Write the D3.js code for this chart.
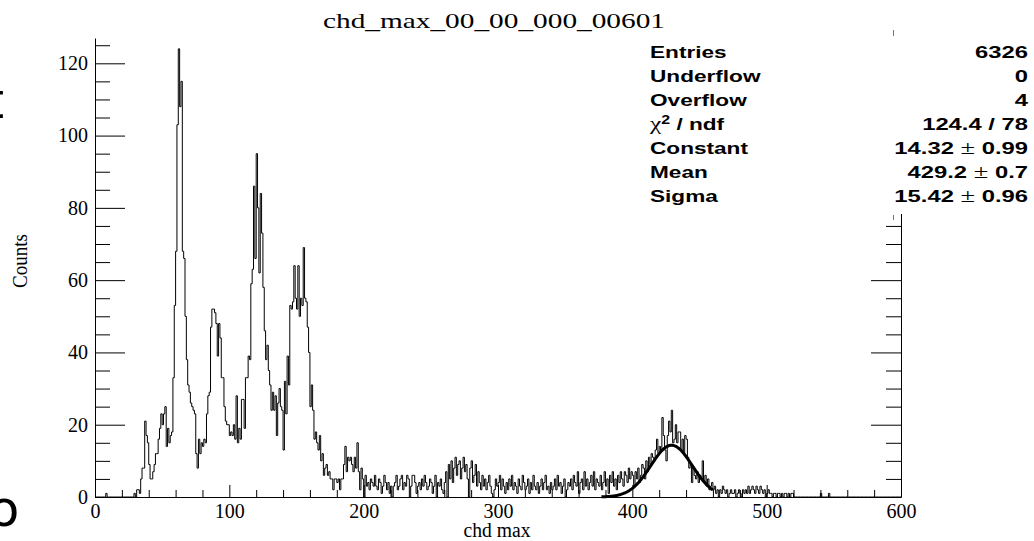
<!DOCTYPE html>
<html>
<head>
<meta charset="utf-8">
<script src="https://cdn.jsdelivr.net/npm/d3@7"></script>
<style>
  html, body { margin: 0; padding: 0; background: #fff; overflow: hidden; }
  svg { display: block; }
</style>
</head>
<body>
<svg id="chart" width="1034" height="541"></svg>
<script>
// ---- histogram chd_max: 600 bins of width 1 from 0 to 600 ----
const xMin = 0, xMax = 600, binWidth = 1;

const counts000 = [
  0,0,0,0,0,0,0,0,1,0,
  0,0,0,0,0,0,0,0,0,0,
  0,0,0,0,0,0,0,0,0,1,
  0,2,2,1,5,8,8,21,17,15,
  9,5,5,7,9,12,12,16,19,23,
  20,23,25,14,19,15,17,18,33,53,
  68,103,124,108,115,68,66,50,38,31,
  29,26,25,24,23,12,8,16,12,15,
  14,16,15,23,28,29,47,52,52,51,
  48,39,48,44,33,33,25,21,20,20
];
const counts100 = [
  17,18,17,20,16,28,15,19,16,27,
  27,19,33,33,39,38,59,63,86,66,
  95,80,62,84,73,58,46,38,42,35,
  31,24,29,24,28,17,26,30,25,24,
  13,32,23,39,31,53,52,54,64,55,
  52,64,50,55,53,69,55,54,47,40,
  25,31,24,16,18,15,13,17,10,12,
  6,8,9,6,7,5,5,2,5,5,
  4,5,2,5,5,9,14,7,11,10,
  11,9,7,11,8,15,7,2,8,5
];
const counts200 = [
  0,6,3,4,2,5,4,3,6,3,
  2,5,4,1,3,6,4,2,4,1,
  3,0,3,4,6,2,3,5,6,2,
  4,3,6,5,0,3,6,6,4,1,
  3,4,2,5,3,6,4,2,3,5,
  4,1,3,6,0,4,3,5,2,1,
  4,7,0,9,5,10,4,8,11,6,
  9,10,5,8,11,7,9,5,0,8,
  10,4,6,9,3,7,4,2,6,3,
  5,2,4,6,3,1,0,2,5,3
];
const counts300 = [
  4,6,2,5,3,1,4,2,5,3,
  6,2,4,3,1,5,3,2,6,4,
  2,3,5,1,4,2,6,3,2,4,
  1,3,5,2,4,6,2,3,1,4,
  2,3,5,2,6,3,4,1,3,5,
  0,2,4,3,5,2,6,4,3,7,
  1,4,5,2,7,3,5,2,4,6,
  3,7,2,5,4,3,6,2,4,7,
  3,5,1,6,4,7,3,5,2,6,
  4,7,5,3,7,6,4,8,5,7
];
const counts400 = [
  6,3,7,5,8,4,6,9,8,5,
  10,7,11,9,12,11,10,13,16,12,
  14,13,22,17,13,10,17,21,18,24,
  15,16,20,15,18,18,13,16,12,17,
  16,11,8,9,4,8,6,5,7,4,
  6,5,10,4,6,3,5,2,3,4,
  2,3,1,2,0,2,1,3,2,1,
  2,0,1,2,1,1,2,0,1,2,
  1,0,2,1,2,1,3,1,2,3,
  2,1,3,2,1,3,2,1,2,0
];
const counts500 = [
  1,2,1,1,0,1,1,0,1,1,
  0,1,0,1,1,0,1,0,1,1,
  0,0,0,0,0,0,0,0,0,0,
  0,0,0,0,0,0,0,0,0,0,
  1,0,0,0,0,0,1,0,0,0,
  0,0,0,0,0,0,0,0,0,0,
  0,0,0,0,0,0,0,0,0,0,
  0,0,0,0,0,0,0,0,0,0,
  0,0,0,0,0,0,0,0,0,0,
  0,0,0,0,0,0,0,0,0,0
];

// axis ticks
const xTicks = [0, 100, 200, 300, 400, 500, 600];
const yTicks = [0, 20, 40, 60, 80, 100, 120];

// gaussian fit result
const fitConstant = 14.32, fitConstantErr = 0.99;
const fitMean = 429.2, fitMeanErr = 0.7;
const fitSigma = 15.42, fitSigmaErr = 0.96;
const fitRange = [377, 460];
const fitChi2 = 124.4, fitNdf = 78;

// statistics
const statEntries = 6326, statUnderflow = 0, statOverflow = 4;

const titleText = "chd_max_00_00_000_00601";
const xTitle = "chd max";
const yTitle = "Counts";

// ---- drawing ----
const svg = d3.select("#chart");
const serif = "'Liberation Serif', 'Times New Roman', serif";
const sans = "'Liberation Sans', Arial, Helvetica, sans-serif";

const x = d3.scaleLinear().domain([xMin, xMax]).range([95, 901]);
const y = d3.scaleLinear().domain([0, 127]).range([497, 38]);

// partially visible letters at the left edge
svg.append("text").attr("x", -15.4).attr("y", 118)
  .attr("font-family", "'DejaVu Sans', sans-serif").attr("font-size", 50).text("t");
svg.append("text").attr("x", -11.2).attr("y", 526)
  .attr("font-family", "'DejaVu Sans', sans-serif").attr("font-size", 50).text("o");

// title
svg.append("text").attr("x", 323).attr("y", 28)
  .attr("font-family", serif).attr("font-size", 21)
  .attr("textLength", 342).attr("lengthAdjust", "spacingAndGlyphs")
  .text(titleText);

function styleAxis(g) {
  g.select(".domain").attr("stroke", "#000").attr("stroke-width", 1);
  g.selectAll(".tick line").attr("stroke", "#000").attr("stroke-width", 1);
  g.selectAll("text").attr("font-family", serif).attr("font-size", 20).attr("fill", "#000");
}

const yMinor = d3.range(0, 126, 5).filter(v => v % 20 !== 0);
const xMinor = d3.range(0, 601, 20).filter(v => v % 100 !== 0);

// left axis
svg.append("g").attr("transform", "translate(95,0)")
  .call(d3.axisLeft(y).tickValues(yTicks).tickSizeInner(-30).tickSizeOuter(0).tickPadding(7).tickFormat(d3.format("d")))
  .call(styleAxis);
svg.append("g").attr("transform", "translate(95,0)")
  .call(d3.axisLeft(y).tickValues(yMinor).tickSizeInner(-15).tickSizeOuter(0).tickFormat(""))
  .call(g => g.select(".domain").remove()).call(styleAxis);

// right axis (ticks only)
svg.append("g").attr("transform", "translate(901,0)")
  .call(d3.axisRight(y).tickValues(yTicks).tickSizeInner(-30).tickSizeOuter(0).tickFormat(""))
  .call(styleAxis);
svg.append("g").attr("transform", "translate(901,0)")
  .call(d3.axisRight(y).tickValues(yMinor).tickSizeInner(-15).tickSizeOuter(0).tickFormat(""))
  .call(g => g.select(".domain").remove()).call(styleAxis);

// bottom axis
svg.append("g").attr("transform", "translate(0,497)")
  .call(d3.axisBottom(x).tickValues(xTicks).tickSizeInner(-12).tickSizeOuter(0).tickPadding(7).tickFormat(d3.format("d")))
  .call(styleAxis);
svg.append("g").attr("transform", "translate(0,497)")
  .call(d3.axisBottom(x).tickValues(xMinor).tickSizeInner(-7).tickSizeOuter(0).tickFormat(""))
  .call(g => g.select(".domain").remove()).call(styleAxis);

// axis titles
svg.append("text").attr("x", 497).attr("y", 537)
  .attr("text-anchor", "middle").attr("font-family", serif).attr("font-size", 20)
  .attr("textLength", 67).attr("lengthAdjust", "spacingAndGlyphs")
  .text(xTitle);
svg.append("text").attr("transform", "translate(27,261) rotate(-90)")
  .attr("text-anchor", "middle").attr("font-family", serif).attr("font-size", 21)
  .attr("textLength", 54).attr("lengthAdjust", "spacingAndGlyphs")
  .text(yTitle);

// histogram outline
const counts = [].concat(counts000, counts100, counts200, counts300, counts400, counts500);
const steps = counts.map((c, i) => [xMin + i * binWidth, c]);
steps.push([xMax, counts[counts.length - 1]]);
const stepLine = d3.line().x(d => x(d[0])).y(d => y(d[1])).curve(d3.curveStepAfter);
svg.append("path").datum(steps)
  .attr("d", stepLine).attr("fill", "none").attr("stroke", "#000").attr("stroke-width", 1);

// gaussian fit curve
const gauss = v => fitConstant * Math.exp(-0.5 * Math.pow((v - fitMean) / fitSigma, 2));
const fitPts = d3.range(fitRange[0], fitRange[1] + 0.001, 0.5).map(v => [v, gauss(v)]);
svg.append("path").datum(fitPts)
  .attr("d", d3.line().x(d => x(d[0])).y(d => y(d[1])))
  .attr("fill", "none").attr("stroke", "#000").attr("stroke-width", 3);

// statistics box
svg.append("rect").attr("x", 640).attr("y", 36).attr("width", 394).attr("height", 178).attr("fill", "#fff");
svg.append("line").attr("x1", 893.5).attr("x2", 893.5).attr("y1", 30).attr("y2", 36)
  .attr("stroke", "#777").attr("stroke-width", 1);
svg.append("line").attr("x1", 893.5).attr("x2", 893.5).attr("y1", 215).attr("y2", 220)
  .attr("stroke", "#777").attr("stroke-width", 1);

const pm = "\u00b1";
const statRows = [
  { label: [{ t: "Entries" }], value: [{ t: String(statEntries) }] },
  { label: [{ t: "Underflow" }], value: [{ t: String(statUnderflow) }] },
  { label: [{ t: "Overflow" }], value: [{ t: String(statOverflow) }] },
  { label: [{ t: "\u03c7", serif: true }, { t: "2", sup: true }, { t: " / ndf" }],
    value: [{ t: `${fitChi2} / ${fitNdf}` }] },
  { label: [{ t: "Constant" }], value: [{ t: fitConstant.toFixed(2) + " " }, { t: pm, serif: true }, { t: " " + fitConstantErr.toFixed(2) }] },
  { label: [{ t: "Mean" }], value: [{ t: fitMean.toFixed(1) + " " }, { t: pm, serif: true }, { t: " " + fitMeanErr.toFixed(1) }] },
  { label: [{ t: "Sigma" }], value: [{ t: fitSigma.toFixed(2) + " " }, { t: pm, serif: true }, { t: " " + fitSigmaErr.toFixed(2) }] }
];

function addSegments(textSel, segs) {
  segs.forEach(s => {
    const ts = textSel.append("tspan").text(s.t);
    if (s.serif) ts.attr("font-family", serif).attr("font-weight", "normal").attr("font-size", 19);
    if (s.sup) ts.attr("font-size", 12).attr("baseline-shift", "6");
  });
}

statRows.forEach((r, i) => {
  const by = 57.5 + i * 24.15;
  const lt = svg.append("text")
    .attr("transform", `translate(650,${by}) scale(1.33,1)`)
    .attr("font-family", sans).attr("font-weight", "bold").attr("font-size", 17);
  addSegments(lt, r.label);
  const vt = svg.append("text")
    .attr("transform", `translate(1028,${by}) scale(1.4,1)`)
    .attr("text-anchor", "end")
    .attr("font-family", sans).attr("font-weight", "bold").attr("font-size", 17);
  addSegments(vt, r.value);
});
</script>
</body>
</html>
